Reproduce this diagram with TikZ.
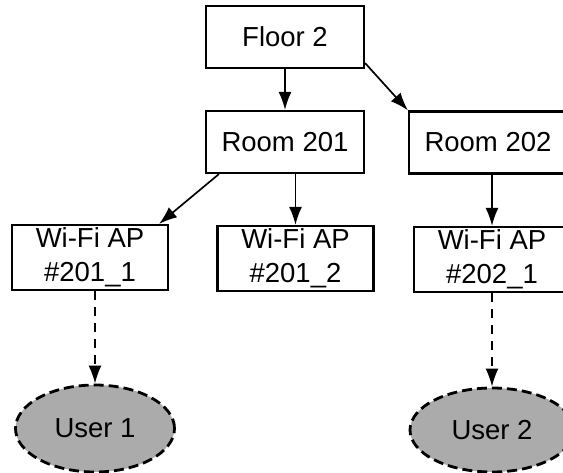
\documentclass[tikz,border=0pt]{standalone}
\usepackage{fontspec}
\setmainfont{Liberation Sans}
\usetikzlibrary{arrows.meta,shapes.geometric,calc}

\begin{document}
\begin{tikzpicture}[x=1pt,y=-1pt,
  labelfont/.style={font=\fontsize{27.5}{34}\selectfont},
  box/.style={draw=black, line width=2.2pt, minimum width=158pt,
    minimum height=62pt, inner sep=0pt, align=center, labelfont},
  apbox/.style={box, minimum width=156pt, minimum height=65pt},
  user/.style={ellipse, draw=black, line width=2.8pt,
    dash pattern=on 10pt off 5pt, fill=black!33, minimum width=159pt,
    minimum height=87pt, inner sep=0pt, labelfont},
  link/.style={line width=1.7pt, -{Latex[length=18pt,width=13pt]}},
  wireless/.style={link, dash pattern=on 9pt off 7pt}
]
\useasboundingbox (0,0) rectangle (563,473);
\clip (0,0) rectangle (563,473);
\fill[white] (0,0) rectangle (563,473);

% hierarchy: floor, rooms, access points
\node[box] (f2) at (285,37) {Floor 2};
\node[box] (r201) at (285,142) {Room 201};
\node[box] (r202) at (488,142.5) {Room 202};
\node[apbox] (w1) at (90,257.5) {Wi-Fi AP\\\#201\_1};
\node[apbox] (w2) at (295.5,258.5) {Wi-Fi AP\\\#201\_2};
\node[apbox] (w3) at (492,259.5) {Wi-Fi AP\\\#202\_1};

% connected users
\node[user] (u1) at (95,428.5) {User 1};
\node[user, minimum width=164pt, minimum height=84pt] (u2) at (492,430) {User 2};

% containment links
\draw[link] (f2) -- (r201);
\draw[link] ($(f2.south east)+(0,-6)$) -- (r202.north west);
\draw[link] ($(r201.south west)+(14,0)$) -- ($(w1.north east)+(-10,0)$);
\draw[link] (r201.south -| w2.north) -- (w2.north);
\draw[link] (r202.south -| w3.north) -- (w3.north);

% wireless associations
\draw[wireless] (w1.south -| u1.north) -- (u1.north);
\draw[wireless] (w3.south -| u2.north) -- (u2.north);
\end{tikzpicture}
\end{document}
